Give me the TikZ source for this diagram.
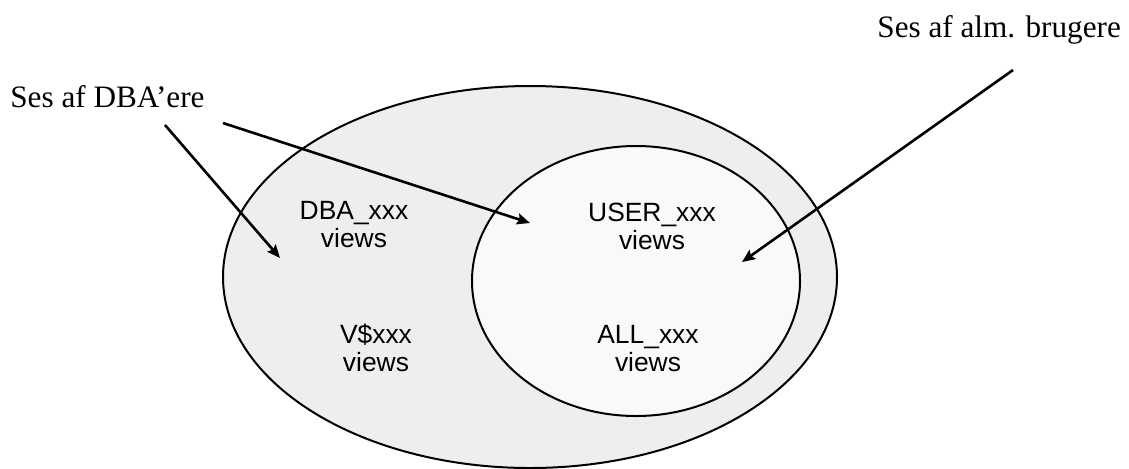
\documentclass[tikz,border=0pt]{standalone}
\usepackage{fontspec}
\setmainfont{Liberation Serif}
\setsansfont{Liberation Sans}
\usetikzlibrary{arrows.meta}

\begin{document}
\begin{tikzpicture}[x=0.5pt,y=-0.5pt,
      viewlbl/.style={align=center, inner sep=0pt, font=\sffamily\fontsize{13.2}{14}\selectfont},
      seslbl/.style={anchor=base west, inner sep=0pt, font=\fontsize{15.6}{18}\selectfont},
      pfeil/.style={-{Stealth[length=6.5pt,width=5.5pt,inset=1pt]}, line width=1.3pt}]

\useasboundingbox (0,0) rectangle (1129,468);

% outer and inner sets
\draw[line width=1pt, fill=gray!13] (530,277) ellipse [x radius=153.5pt, y radius=95.5pt];
\draw[line width=1pt, fill=gray!5] (636,281) ellipse [x radius=82pt, y radius=67.5pt];

\node[viewlbl] (dba) at (354,225) {DBA\_xxx\\views};
\node[viewlbl] (vdol) at (376,348) {V\$xxx\\views};
\node[viewlbl] (user) at (652,226) {USER\_xxx\\views};
\node[viewlbl] (all) at (648,349) {ALL\_xxx\\views};

\node[seslbl] (sesdba) at (10,107) {Ses af DBA’ere};
\node[seslbl] (sesalm) at (877,37) {Ses af alm. brugere};

\coordinate (s1) at (165,125);
\coordinate (s2) at (223,123);
\coordinate (s3) at (1013,70);
\coordinate (t1) at (280,258);
\coordinate (t2) at (530,223);
\coordinate (t3) at (742,262);

\draw[pfeil] (s1) -- (t1);
\draw[pfeil] (s2) -- (t2);
\draw[pfeil] (s3) -- (t3);

\end{tikzpicture}
\end{document}
